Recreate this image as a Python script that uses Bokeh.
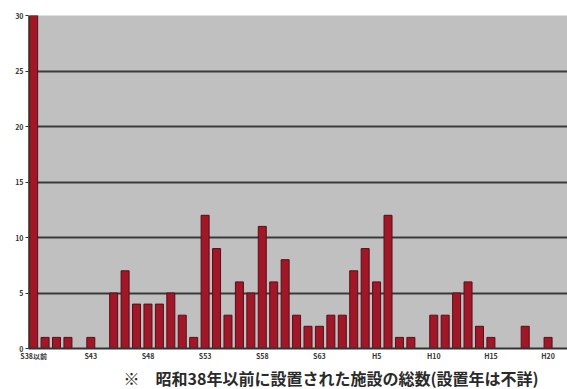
from bokeh.plotting import figure
from bokeh.models import Range1d, FixedTicker, Title, ColumnDataSource
from bokeh.embed import file_html
from bokeh.resources import INLINE

categories = ["S38以前",
              "S39", "S40", "S41", "S42", "S43", "S44", "S45", "S46", "S47", "S48",
              "S49", "S50", "S51", "S52", "S53", "S54", "S55", "S56", "S57", "S58",
              "S59", "S60", "S61", "S62", "S63",
              "H1", "H2", "H3", "H4", "H5", "H6", "H7", "H8", "H9", "H10",
              "H11", "H12", "H13", "H14", "H15", "H16", "H17", "H18", "H19", "H20", "H21"]
counts = [30, 1, 1, 1, 0, 1, 0, 5, 7, 4,
          4, 4, 5, 3, 1, 12, 9, 3, 6, 5,
          11, 6, 8, 3, 2, 2, 3, 3, 7, 9,
          6, 12, 1, 1, 0, 3, 3, 5, 6, 2,
          1, 0, 0, 2, 0, 1, 0]
label_every = 5
y_ticks = [0, 5, 10, 15, 20, 25, 30]
caption = "※　昭和38年以前に設置された施設の総数(設置年は不詳)"

FONT = "Noto Sans CJK JP"

idx = list(range(len(categories)))
src = ColumnDataSource(dict(x=idx, top=counts, name=categories))

p = figure(width=567, height=389, output_backend="svg", toolbar_location=None,
           x_range=Range1d(-0.45, 46.7), y_range=Range1d(0, 30))
p.min_border_left = 28
p.min_border_right = 0
p.min_border_top = 15
p.min_border_bottom = 41
p.background_fill_color = "#c0c0c0"
p.border_fill_color = "white"
p.outline_line_color = None

p.vbar(x="x", top="top", width=0.7, source=src,
       fill_color="#a01828", line_color="#5a0c18", line_width=1)

tick_idx = idx[::label_every]
p.xaxis.ticker = FixedTicker(ticks=tick_idx)
p.xaxis.major_label_overrides = {i: categories[i] for i in tick_idx}
p.xaxis.major_label_text_font = FONT
p.xaxis.major_label_text_font_size = "7px"
p.xaxis.major_label_text_font_style = "bold"
p.xaxis.major_label_text_color = "#333333"
p.xaxis.major_label_standoff = 2
p.xaxis.major_tick_out = 0
p.xaxis.major_tick_in = 0
p.xaxis.major_tick_line_color = None
p.xaxis.minor_tick_line_color = None
p.xaxis.axis_line_color = "#333333"
p.xaxis.axis_line_width = 2

p.yaxis.ticker = FixedTicker(ticks=y_ticks)
p.yaxis.major_label_text_font = FONT
p.yaxis.major_label_text_font_size = "7px"
p.yaxis.major_label_text_font_style = "bold"
p.yaxis.major_label_text_color = "#333333"
p.yaxis.major_label_standoff = 2
p.yaxis.major_tick_out = 3
p.yaxis.major_tick_in = 0
p.yaxis.major_tick_line_color = "#333333"
p.yaxis.minor_tick_line_color = None
p.yaxis.axis_line_color = "#4a6a4a"

p.xgrid.grid_line_color = None
p.ygrid.grid_line_color = "#3a3a3a"
p.ygrid.grid_line_width = 2

t = Title(text=caption, align="left", offset=95, standoff=0,
          text_font=FONT, text_font_size="16px", text_font_style="bold",
          text_color="#2a2a2a")
p.add_layout(t, "below")

open("out.html", "w").write(file_html(p, INLINE))
